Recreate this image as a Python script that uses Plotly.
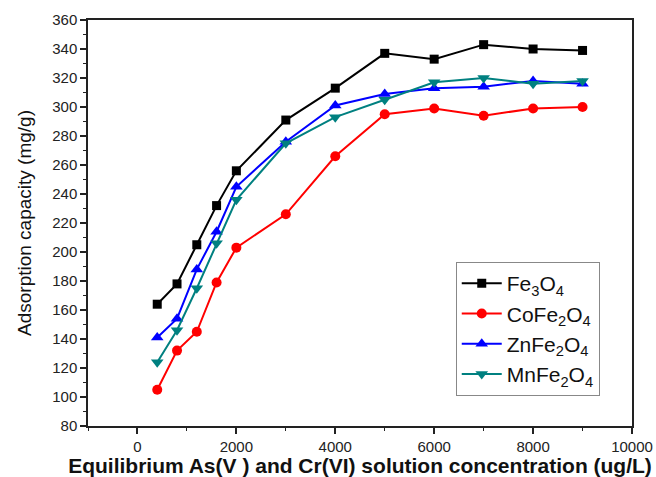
import plotly.graph_objects as go

x_conc = [400, 800, 1200, 1600, 2000, 3000, 4000, 5000, 6000, 7000, 8000, 9000]
fe3o4 = [164, 178, 205, 232, 256, 291, 313, 337, 333, 343, 340, 339]
cofe2o4 = [105, 132, 145, 179, 203, 226, 266, 295, 299, 294, 299, 300]
znfe2o4 = [141, 154, 188, 214, 245, 276, 301, 309, 313, 314, 318, 316]
mnfe2o4 = [124, 146, 175, 206, 236, 275, 293, 305, 317, 320, 316, 318]

x_ticks = [0, 2000, 4000, 6000, 8000, 10000]
x_ticklabels = ["0", "2000", "4000", "6000", "8000", "10000"]

names = ["Fe<sub>3</sub>O<sub>4</sub>", "CoFe<sub>2</sub>O<sub>4</sub>",
         "ZnFe<sub>2</sub>O<sub>4</sub>", "MnFe<sub>2</sub>O<sub>4</sub>"]
series = [fe3o4, cofe2o4, znfe2o4, mnfe2o4]
colors = ["#000000", "#FF0000", "#0000FF", "#008080"]
symbols = ["square", "circle", "triangle-up", "triangle-down"]
sizes = [9, 10, 11, 11]

fig = go.Figure()
for n, s, c, sym, sz in zip(names, series, colors, symbols, sizes):
    fig.add_trace(go.Scatter(
        x=x_conc, y=s, name=n, mode="lines+markers",
        line=dict(color=c, width=2),
        marker=dict(symbol=sym, size=sz, color=c),
    ))

fig.update_layout(
    width=656, height=477,
    margin=dict(l=88, r=24, t=20, b=51),
    paper_bgcolor="white", plot_bgcolor="white",
    font=dict(family="Arial, Liberation Sans", color="#222222"),
    showlegend=True,
    legend=dict(
        x=0.676, y=0.404, xanchor="left", yanchor="top",
        bordercolor="#888888", borderwidth=1, bgcolor="white",
        font=dict(size=21, color="#111111"),
        itemwidth=40,
    ),
    xaxis=dict(
        range=[-1000, 10000], tickvals=x_ticks, ticktext=x_ticklabels,
        automargin=False,
        ticks="outside", ticklen=6, tickwidth=1.5, tickcolor="#222222",
        minor=dict(dtick=1000, ticks="outside", ticklen=3, tickcolor="#222222", tickwidth=1),
        showline=True, linecolor="#222222", linewidth=1.5, mirror=True,
        showgrid=False, zeroline=False,
        tickfont=dict(size=15),
        title=dict(text="<b>Equilibrium As(V ) and Cr(VI) solution concentration (ug/L)</b>",
                   font=dict(size=21, color="#111111"), standoff=4),
    ),
    yaxis=dict(
        range=[80, 360], dtick=20, automargin=False,
        ticks="outside", ticklen=6, tickwidth=1.5, tickcolor="#222222",
        minor=dict(dtick=10, ticks="outside", ticklen=3, tickcolor="#222222", tickwidth=1),
        showline=True, linecolor="#222222", linewidth=1.5, mirror=True,
        showgrid=False, zeroline=False,
        tickfont=dict(size=15),
        title=dict(text="Adsorption capacity (mg/g)", font=dict(size=19, color="#111111"), standoff=16),
    ),
)

fig.write_html("out.html")
